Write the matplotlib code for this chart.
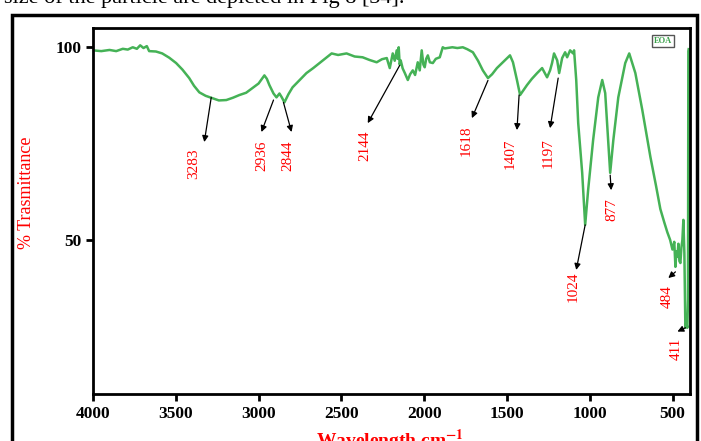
import matplotlib
matplotlib.use("Agg")
import matplotlib.pyplot as plt
import matplotlib.patches as patches
import numpy as np

# ---
# data
# ---

wavenumber = [
    4000, 3950, 3900, 3860, 3820, 3790, 3760, 3735, 3715, 3695,
    3675, 3661, 3620, 3582, 3540, 3498, 3460, 3419, 3390, 3358,
    3320, 3280, 3240, 3195, 3155, 3116, 3075, 3038, 3000, 2965,
    2950, 2935, 2910, 2892, 2874, 2860, 2844, 2820, 2795, 2750,
    2711, 2670, 2632, 2595, 2559, 2520, 2469, 2420, 2372, 2330,
    2287, 2255, 2226, 2208, 2190, 2178, 2166, 2160, 2154, 2148,
    2142, 2130, 2117, 2099, 2085, 2069, 2055, 2039, 2027, 2015,
    2005, 1997, 1988, 1978, 1966, 1948, 1930, 1906, 1888, 1876,
    1830, 1800, 1767, 1740, 1706, 1675, 1646, 1615, 1590, 1561,
    1520, 1482, 1464, 1440, 1421, 1400, 1379, 1350, 1318, 1288,
    1258, 1240, 1228, 1216, 1197, 1185, 1167, 1149, 1137, 1119,
    1101, 1095, 1082, 1070, 1046, 1028, 1010, 980, 949, 925,
    907, 889, 877, 858, 828, 786, 762, 725, 683, 634,
    600, 574, 550, 532, 515, 501, 490, 483, 477, 471,
    465, 459, 453, 447, 441, 435, 429, 423, 417, 411,
    407, 405, 403,
]
transmittance = [
    99.2, 99.0, 99.3, 99.0, 99.6, 99.4, 100.0, 99.6, 100.5, 99.8,
    100.3, 99.0, 98.9, 98.4, 97.3, 95.9, 94.2, 92.0, 90.0, 88.3,
    87.4, 86.8, 86.2, 86.3, 86.9, 87.6, 88.2, 89.4, 90.6, 92.7,
    91.8, 90.2, 88.0, 87.0, 88.0, 87.0, 85.7, 87.8, 89.6, 91.6,
    93.3, 94.6, 95.9, 97.2, 98.4, 98.0, 98.4, 97.6, 97.4, 96.7,
    96.1, 96.9, 97.2, 94.6, 98.4, 96.5, 99.2, 97.0, 100.0, 95.5,
    96.6, 94.5, 93.3, 91.5, 93.0, 94.0, 92.8, 96.1, 94.0, 99.2,
    95.5, 94.8, 97.0, 97.9, 96.1, 95.9, 97.0, 97.4, 100.0, 99.7,
    100.0, 99.8, 100.0, 99.5, 98.7, 96.5, 94.0, 92.0, 93.0, 94.6,
    96.3, 97.9, 96.1, 91.5, 87.6, 88.9, 90.2, 91.8, 93.3, 94.6,
    92.2, 94.0, 95.9, 98.4, 96.6, 93.3, 97.2, 98.7, 97.4, 99.2,
    98.4, 99.2, 91.5, 80.3, 67.4, 53.9, 63.0, 75.9, 87.0, 91.5,
    88.1, 75.9, 67.4, 75.9, 87.0, 95.9, 98.4, 93.3, 83.7, 71.5,
    64.0, 58.0, 54.5, 52.0, 50.0, 47.5, 49.5, 43.0, 47.0, 45.6,
    49.0, 44.5, 44.0, 48.0, 50.0, 55.2, 46.6, 27.2, 28.5, 27.2,
    34.5, 99.0, 99.5,
]
assert len(wavenumber) == len(transmittance)

# peak annotations: label, arrow tail (on curve), arrow head, label top
peak_labels = ["3283", "2936", "2844", "2144", "1618", "1407",
               "1197", "1024", "877", "484", "411"]
tail_wn = [3286, 2910, 2850, 2148, 1615, 1427, 1191, 1028, 877, 483, 422]
tail_t = [87.0, 86.3, 85.7, 95.3, 91.4, 87.6, 92.0, 53.9, 66.8, 41.7, 27.2]
head_wn = [3328, 2983, 2801, 2341, 1712, 1440, 1240, 1082, 871, 526, 471]
head_t = [75.4, 78.0, 78.0, 80.3, 81.6, 78.5, 79.0, 42.2, 62.9, 40.1, 26.2]
label_wn = [3389, 2981, 2826, 2360, 1748, 1482, 1252, 1101, 865, 532, 477]
label_t = [73.8, 75.9, 75.9, 78.5, 79.8, 76.4, 76.4, 41.7, 60.9, 38.3, 24.6]

x_ticks = [4000, 3500, 3000, 2500, 2000, 1500, 1000, 500]
y_ticks = [100, 50]

# ---
# plot
# ---

plt.rcParams["font.family"] = ["Liberation Serif", "DejaVu Serif"]
plt.rcParams["mathtext.fontset"] = "stix"

fig = plt.figure(figsize=(7.01, 4.41), dpi=100)
ax = fig.add_axes([93 / 701, 1 - 394 / 441, 597 / 701, 366 / 441])

ax.plot(wavenumber, transmittance, color="#45b256", lw=1.8)

for i in range(len(peak_labels)):
    ax.annotate("", xy=(head_wn[i], head_t[i]), xytext=(tail_wn[i], tail_t[i]),
                arrowprops=dict(arrowstyle="-|>", color="black", lw=0.9,
                                mutation_scale=9, shrinkA=0, shrinkB=0))
    ax.text(label_wn[i], label_t[i], peak_labels[i], color="red", fontsize=11,
            rotation=90, ha="center", va="top")

ax.set_xlim(4000, 395)
ax.set_ylim(10, 105)
ax.set_xticks(x_ticks)
ax.set_yticks(y_ticks)
ax.tick_params(direction="out", length=5, width=2, labelsize=12.5)
for lab in ax.get_xticklabels() + ax.get_yticklabels():
    lab.set_fontweight("bold")
for sp in ax.spines.values():
    sp.set_linewidth(2)

ax.set_ylabel("% Trasmittance", color="red", fontsize=13)
ax.yaxis.set_label_coords(-0.097, 0.55)

# small legend tag in the corner
ax.text(0.955, 0.975, "EOA", transform=ax.transAxes, fontsize=6,
        fontweight="bold", color="#3aa04a", ha="center", va="top",
        bbox=dict(boxstyle="square,pad=0.25", fc="white", ec="#555555", lw=1))

# x label, partly cut by the picture edge
fig.text(0.556, 1 - 428 / 441, r"Wavelength cm$^{\mathbf{-1}}$", color="red",
         fontsize=14, fontweight="bold", ha="center", va="top")

# outer frame around the figure
fig.patches.append(patches.Rectangle((12 / 701, -0.1), 685 / 701, 1.1 - 15 / 441,
                                     transform=fig.transFigure, fill=False,
                                     ec="black", lw=2.5))

# cut-off line of text from the page above
fig.text(0.005, 1 - 3.5 / 441, "size of the particle are depicted in Fig 8 [34].",
         fontsize=16, ha="left", va="baseline", color="black")

fig.savefig("out.png", dpi=100)
